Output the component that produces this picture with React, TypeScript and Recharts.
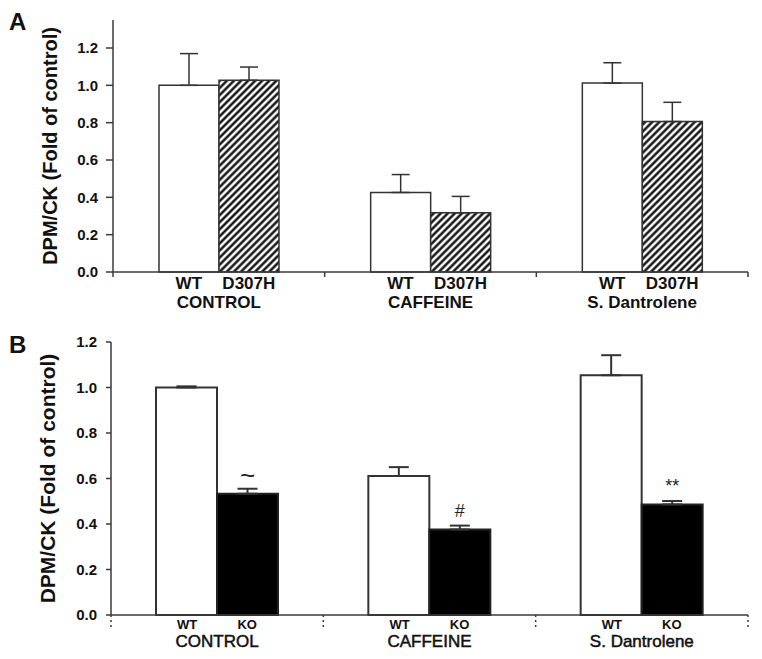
import { BarChart, Bar, XAxis, YAxis, ErrorBar, LabelList } from 'recharts'

const groups = ['CONTROL', 'CAFFEINE', 'S. Dantrolene']

// panel A: WT vs D307H
const subLabelsA = ['WT', 'D307H']
const wtA = [1.0, 0.426, 1.012]
const wtAErr = [0.17, 0.096, 0.109]
const mutA = [1.027, 0.317, 0.806]
const mutAErr = [0.071, 0.088, 0.103]

// panel B: WT vs KO
const subLabelsB = ['WT', 'KO']
const wtB = [1.0, 0.611, 1.054]
const wtBErr = [0.005, 0.039, 0.088]
const koB = [0.533, 0.376, 0.486]
const koBErr = [0.022, 0.017, 0.015]
const koMarks = ['~', '#', '**']

const yTicks = [0, 0.2, 0.4, 0.6, 0.8, 1.0, 1.2]
const Y_TITLE = 'DPM/CK (Fold of control)'

const FONT = "'Liberation Sans', Arial, Helvetica, sans-serif"
const AXIS = '#3a3a3a'
const W = 762
const BAR = 60
const RIGHT = 14

const tableA = groups.map((g, i) => ({
  group: g,
  wt: wtA[i],
  wtErr: [0, wtAErr[i]],
  mut: mutA[i],
  mutErr: [0, mutAErr[i]],
}))

const tableB = groups.map((g, i) => ({
  group: g,
  wt: wtB[i],
  wtErr: [0, wtBErr[i]],
  ko: koB[i],
  koErr: [0, koBErr[i]],
  mark: koMarks[i],
}))

// layout of the two panels
const A_H = 320
const A_TOP = 20
const A_XH = 48
const A_YW = 113
const A_MAX = 1.35

const B_H = 339
const B_TOP = 22
const B_XH = 44
const B_YW = 111
const B_MAX = 1.2
const B_PX = (B_H - B_TOP - B_XH) / B_MAX

const halfBand = (yw: number) => (W - yw - RIGHT) / groups.length / 2

type TickOpts = {
  subs: string[]
  half: number
  subSize: number
  subDy: number
  groupSize: number
  groupBold: boolean
  groupDy: number
  tickLen: number
  dashed?: boolean
}

const makeTick = (o: TickOpts) => (props: any) => {
  const { x, y, payload, index } = props
  const left = x - o.half
  const right = x + o.half
  const last = index === groups.length - 1
  const dash = o.dashed ? '2 3' : undefined
  return (
    <g>
      <line x1={left} x2={left} y1={y} y2={y + o.tickLen} stroke={AXIS} strokeWidth={1.5} strokeDasharray={dash} />
      {last ? (
        <line x1={right} x2={right} y1={y} y2={y + o.tickLen} stroke={AXIS} strokeWidth={1.5} strokeDasharray={dash} />
      ) : null}
      {o.subs.map((s, k) => (
        <text
          key={s}
          x={x + (k === 0 ? -BAR / 2 : BAR / 2)}
          y={y + o.subDy}
          textAnchor="middle"
          fontFamily={FONT}
          fontSize={o.subSize}
          fontWeight={700}
          fill="#111"
        >
          {s}
        </text>
      ))}
      <text
        x={x}
        y={y + o.groupDy}
        textAnchor="middle"
        fontFamily={FONT}
        fontSize={o.groupSize}
        fontWeight={o.groupBold ? 700 : 400}
        fill="#111"
        stroke={o.groupBold ? undefined : '#111'}
        strokeWidth={o.groupBold ? undefined : 0.5}
      >
        {payload.value}
      </text>
    </g>
  )
}

const tickA = makeTick({
  subs: subLabelsA,
  half: halfBand(A_YW),
  subSize: 17,
  subDy: 17,
  groupSize: 17,
  groupBold: true,
  groupDy: 36,
  tickLen: 5,
})

const tickB = makeTick({
  subs: subLabelsB,
  half: halfBand(B_YW),
  subSize: 13,
  subDy: 14,
  groupSize: 17,
  groupBold: false,
  groupDy: 32,
  tickLen: 13,
  dashed: true,
})

const MarkLabel = (props: any) => {
  const { x, y, width, value } = props
  const i = koMarks.indexOf(value)
  const lift = i >= 0 ? koBErr[i] * B_PX : 0
  const big = value === '~'
  return (
    <text
      x={x + width / 2}
      y={y - lift - (big ? 5 : 9)}
      textAnchor="middle"
      fontFamily={FONT}
      fontSize={big ? 26 : 18}
      fill="#222"
    >
      {value}
    </text>
  )
}

const yTick = { fill: '#111', fontSize: 15, fontWeight: 700, fontFamily: FONT }

export default function App() {
  return (
    <div style={{ position: 'relative', width: W, height: 659, margin: -8, background: '#fff' }}>
      <div style={{ position: 'absolute', left: 0, top: 0 }}>
        <BarChart
          width={W}
          height={A_H}
          data={tableA}
          margin={{ top: A_TOP, right: RIGHT, bottom: 0, left: 0 }}
          barGap={0}
          barSize={BAR}
        >
          <defs>
            <pattern id="hatch" patternUnits="userSpaceOnUse" width={5} height={5} patternTransform="rotate(45)">
              <rect width={5} height={5} fill="#fff" />
              <line x1={2.5} y1={0} x2={2.5} y2={5} stroke="#000" strokeWidth={2.3} />
            </pattern>
          </defs>
          <XAxis
            dataKey="group"
            height={A_XH}
            interval={0}
            tickSize={0}
            tickMargin={0}
            tickLine={false}
            axisLine={{ stroke: AXIS, strokeWidth: 1.5 }}
            tick={tickA}
          />
          <YAxis
            width={A_YW}
            type="number"
            domain={[0, A_MAX]}
            ticks={yTicks}
            tickFormatter={(v: number) => v.toFixed(1)}
            tickSize={7}
            tickMargin={8}
            axisLine={{ stroke: AXIS, strokeWidth: 1.5 }}
            tickLine={{ stroke: AXIS, strokeWidth: 1.5 }}
            tick={yTick}
            label={{
              value: Y_TITLE,
              angle: -90,
              position: 'insideLeft',
              offset: 50,
              style: { textAnchor: 'middle', fontWeight: 700, fontSize: 20, fill: '#111', fontFamily: FONT },
            }}
          />
          <Bar dataKey="wt" fill="#fff" stroke="#333" strokeWidth={1.5} isAnimationActive={false}>
            <ErrorBar dataKey="wtErr" direction="y" width={9} stroke="#333" strokeWidth={1.5} isAnimationActive={false} />
          </Bar>
          <Bar dataKey="mut" fill="url(#hatch)" stroke="#333" strokeWidth={1.5} isAnimationActive={false}>
            <ErrorBar dataKey="mutErr" direction="y" width={9} stroke="#333" strokeWidth={1.5} isAnimationActive={false} />
          </Bar>
        </BarChart>
      </div>

      <div style={{ position: 'absolute', left: 0, top: 320 }}>
        <BarChart
          width={W}
          height={B_H}
          data={tableB}
          margin={{ top: B_TOP, right: RIGHT, bottom: 0, left: 0 }}
          barGap={0}
          barSize={BAR + 1}
        >
          <XAxis
            dataKey="group"
            height={B_XH}
            interval={0}
            tickSize={0}
            tickMargin={0}
            tickLine={false}
            axisLine={{ stroke: AXIS, strokeWidth: 1.5 }}
            tick={tickB}
          />
          <YAxis
            width={B_YW}
            type="number"
            domain={[0, B_MAX]}
            ticks={yTicks}
            tickFormatter={(v: number) => v.toFixed(1)}
            tickSize={5}
            tickMargin={9}
            axisLine={{ stroke: AXIS, strokeWidth: 1.5 }}
            tickLine={{ stroke: AXIS, strokeWidth: 1.5 }}
            tick={yTick}
            label={{
              value: Y_TITLE,
              angle: -90,
              position: 'insideLeft',
              offset: 48,
              style: { textAnchor: 'middle', fontWeight: 700, fontSize: 21, fill: '#111', fontFamily: FONT },
            }}
          />
          <Bar dataKey="wt" fill="#fff" stroke="#333" strokeWidth={2} isAnimationActive={false}>
            <ErrorBar dataKey="wtErr" direction="y" width={10} stroke="#333" strokeWidth={2} isAnimationActive={false} />
          </Bar>
          <Bar dataKey="ko" fill="#000" stroke="#222" strokeWidth={2} isAnimationActive={false}>
            <ErrorBar dataKey="koErr" direction="y" width={10} stroke="#333" strokeWidth={2} isAnimationActive={false} />
            <LabelList dataKey="mark" content={MarkLabel} />
          </Bar>
        </BarChart>
      </div>

      <svg width={W} height={659} style={{ position: 'absolute', left: 0, top: 0, pointerEvents: 'none' }}>
        <text x={9} y={30} fontFamily={FONT} fontSize={24} fontWeight={700} fill="#111">
          A
        </text>
        <text x={9} y={353} fontFamily={FONT} fontSize={24} fontWeight={700} fill="#111">
          B
        </text>
      </svg>
    </div>
  )
}
